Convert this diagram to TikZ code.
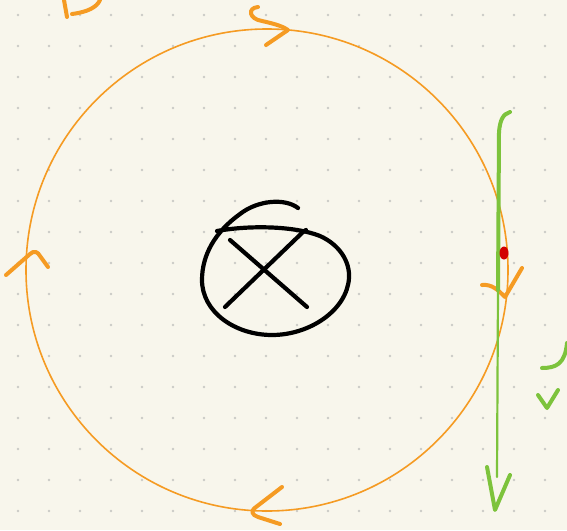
\documentclass[tikz,border=0pt]{standalone}
\usepackage{tikz}

\definecolor{paper}{RGB}{248,246,236}
\definecolor{griddot}{RGB}{202,202,198}
\definecolor{penorange}{RGB}{245,155,35}
\definecolor{pengreen}{RGB}{125,195,60}
\definecolor{penred}{RGB}{210,0,0}

\begin{document}
\begin{tikzpicture}[x=1pt,y=-1pt,
	pen/.style={line cap=round,line join=round},
	fieldline/.style={pen,penorange,line width=1.6pt},
	fieldtip/.style={pen,penorange,line width=4pt},
	wire/.style={pen,black,line width=4.2pt},
	vecline/.style={pen,pengreen}]
	% paper and dot grid
	\fill[paper] (0,0) rectangle (567,530);
	\useasboundingbox (0,0) rectangle (567,530);
	\foreach \i in {0,...,17}
		\foreach \j in {0,...,16}
			\fill[griddot] (18+31*\i,15+31*\j) circle (1.3);
	% current into the page
	\coordinate (O) at (272,280);
	\draw[wire] (217,231) .. controls (250,225) and (295,226) .. (320,236)
		.. controls (340,245) and (350,262) .. (349,278)
		.. controls (347,310) and (310,335) .. (272,335)
		.. controls (235,335) and (202,312) .. (202,280)
		.. controls (202,255) and (215,232) .. (240,214)
		.. controls (258,200) and (285,198) .. (298,208);
	\draw[wire] (230,240) -- (307,307);
	\draw[wire] (225,307) -- (303,232) -- (306,230);
	% field line with direction marks
	\draw[fieldline] (267,270) circle (241);
	\draw[fieldtip] (258,7) .. controls (247,8) and (249,19) .. (262,21) .. controls (276,24) and (284,27) .. (288,30) -- (266,45);
	\draw[fieldtip] (6,275) -- (30,254) .. controls (34,250) and (38,252) .. (40,256) -- (48,267);
	\draw[fieldtip] (282,487) -- (256,507) .. controls (250,511) and (252,515) .. (258,517) -- (280,524);
	\draw[fieldtip] (482,285) .. controls (492,284) and (498,290) .. (505,297) -- (522,268);
	% partial label at top
	\draw[fieldtip] (64,0) -- (67,17);
	\draw[fieldtip] (72,14) .. controls (88,12) and (97,7) .. (100,0);
	% vector and point
	\draw[vecline,line width=4pt] (510,112) .. controls (503,114) and (500,120) .. (499,132) -- (498,290);
	\draw[vecline,line width=2.2pt] (498,290) -- (497,477);
	\draw[vecline,line width=4pt] (487,467) -- (495,510) -- (510,475);
	\draw[vecline,line width=4pt] (542,368) .. controls (556,368) and (565,364) .. (567,343);
	\draw[vecline,line width=4pt] (538,395) -- (547,408) -- (558,390);
	\fill[penred] (504,253) ellipse (4.5 and 6.5);
\end{tikzpicture}
\end{document}
